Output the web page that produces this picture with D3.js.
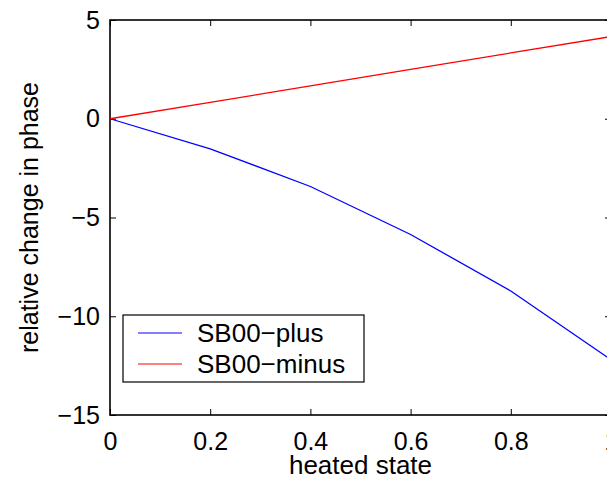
<!DOCTYPE html>
<html>
<head>
<meta charset="utf-8">
<script src="https://cdn.jsdelivr.net/npm/d3@7"></script>
<style>
  body { margin: 0; background: #fff; overflow: hidden; }
  svg { display: block; }
  text { font-family: "Liberation Sans", Arial, sans-serif; fill: #000; }
</style>
</head>
<body>
<div id="chart"></div>
<script>
// data
const heated = [0, 0.2, 0.4, 0.6, 0.8, 1.0];
const sbPlus = [0, -1.52, -3.43, -5.86, -8.72, -12.2];
const sbMinus = [0, 0.83, 1.66, 2.5, 3.33, 4.16];
const seriesNames = ["SB00\u2212plus", "SB00\u2212minus"];
const seriesColors = ["#0000ff", "#ff0000"];
const xTicks = [0, 0.2, 0.4, 0.6, 0.8, 1];
const yTicks = [5, 0, -5, -10, -15];

const width = 607;
const height = 484;
// plot box runs a little past the window on the right, like the original
const margin = { left: 110, top: 20, right: 611, bottom: 415 };

const svg = d3
	.select("#chart")
	.append("svg")
	.attr("width", width)
	.attr("height", height);

const x = d3.scaleLinear().domain([0, 1]).range([margin.left, margin.right]);
const y = d3.scaleLinear().domain([-15, 5]).range([margin.bottom, margin.top]);

// box
svg.append("rect")
	.attr("x", margin.left)
	.attr("y", margin.top)
	.attr("width", margin.right - margin.left)
	.attr("height", margin.bottom - margin.top)
	.attr("fill", "none")
	.attr("stroke", "#000")
	.attr("stroke-width", 1.6);

const fmt = (d) => (d < 0 ? "\u2212" + Math.abs(d) : String(d));

// bottom axis, ticks point inward
const xAxis = svg.append("g")
	.attr("transform", `translate(0,${margin.bottom})`)
	.call(d3.axisBottom(x).tickValues(xTicks).tickSizeInner(-6).tickSizeOuter(0).tickPadding(17).tickFormat(fmt));
xAxis.select(".domain").remove();
xAxis.selectAll("text").attr("font-size", 25).attr("dy", "0.71em");

// top ticks
svg.append("g")
	.attr("transform", `translate(0,${margin.top})`)
	.call(d3.axisTop(x).tickValues(xTicks).tickSizeInner(-6).tickSizeOuter(0).tickFormat(""))
	.call((g) => g.select(".domain").remove());

// left axis
const yAxis = svg.append("g")
	.attr("transform", `translate(${margin.left},0)`)
	.call(d3.axisLeft(y).tickValues(yTicks).tickSizeInner(-6).tickSizeOuter(0).tickPadding(10).tickFormat(fmt));
yAxis.select(".domain").remove();
yAxis.selectAll("text").attr("font-size", 25);

// right ticks
svg.append("g")
	.attr("transform", `translate(${margin.right},0)`)
	.call(d3.axisRight(y).tickValues(yTicks).tickSizeInner(-6).tickSizeOuter(0).tickFormat(""))
	.call((g) => g.select(".domain").remove());

// lines
const line = d3.line()
	.x((d) => x(d[0]))
	.y((d) => y(d[1]));

[sbPlus, sbMinus].forEach(function (vals, i) {
	svg.append("path")
		.datum(heated.map((h, j) => [h, vals[j]]))
		.attr("d", line)
		.attr("fill", "none")
		.attr("stroke", seriesColors[i])
		.attr("stroke-width", 1.3);
});

// axis labels
svg.append("text")
	.attr("x", (margin.left + margin.right) / 2)
	.attr("y", 474)
	.attr("text-anchor", "middle")
	.attr("font-size", 26)
	.text("heated state");

svg.append("text")
	.attr("transform", `translate(38,${(margin.top + margin.bottom) / 2}) rotate(-90)`)
	.attr("text-anchor", "middle")
	.attr("font-size", 25)
	.text("relative change in phase");

// legend
const legend = svg.append("g").attr("transform", "translate(123,315)");
legend.append("rect")
	.attr("width", 241)
	.attr("height", 67)
	.attr("fill", "#fff")
	.attr("stroke", "#000")
	.attr("stroke-width", 1.2);

seriesNames.forEach(function (name, i) {
	const ly = 18 + i * 31;
	legend.append("line")
		.attr("x1", 15).attr("x2", 59)
		.attr("y1", ly).attr("y2", ly)
		.attr("stroke", seriesColors[i])
		.attr("stroke-width", 1.2);
	legend.append("text")
		.attr("x", 74)
		.attr("y", ly)
		.attr("dy", "0.35em")
		.attr("font-size", 26)
		.text(name);
});
</script>
</body>
</html>
